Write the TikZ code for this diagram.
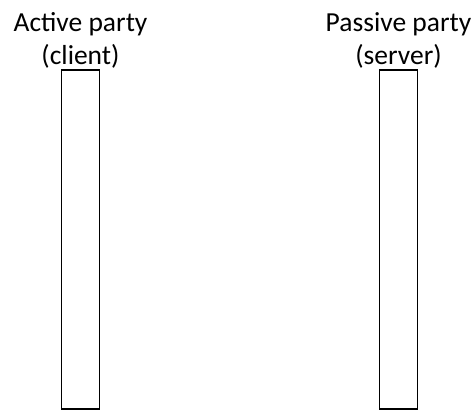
\documentclass[tikz,border=0pt]{standalone}
\usepackage{fontspec}
\setmainfont{Carlito}
\begin{document}
\begin{tikzpicture}[x=1pt,y=-1pt,
  party/.style={draw, line width=1.6pt, minimum width=38pt, minimum height=339pt, inner sep=0pt},
  partylabel/.style={align=center, font=\fontsize{27.5}{33}\selectfont, inner sep=0pt}]
\useasboundingbox (0,0) rectangle (474,411);
\node[party] (client) at (80.5,239.5){};
\node[party] (server) at (398.5,239.5){};
\node[partylabel, anchor=south, yshift=1pt] (clientlbl) at (client.north){Active party\\(client)};
\node[partylabel, anchor=south, yshift=1pt] (serverlbl) at (server.north){Passive party\\(server)};
\end{tikzpicture}
\end{document}
